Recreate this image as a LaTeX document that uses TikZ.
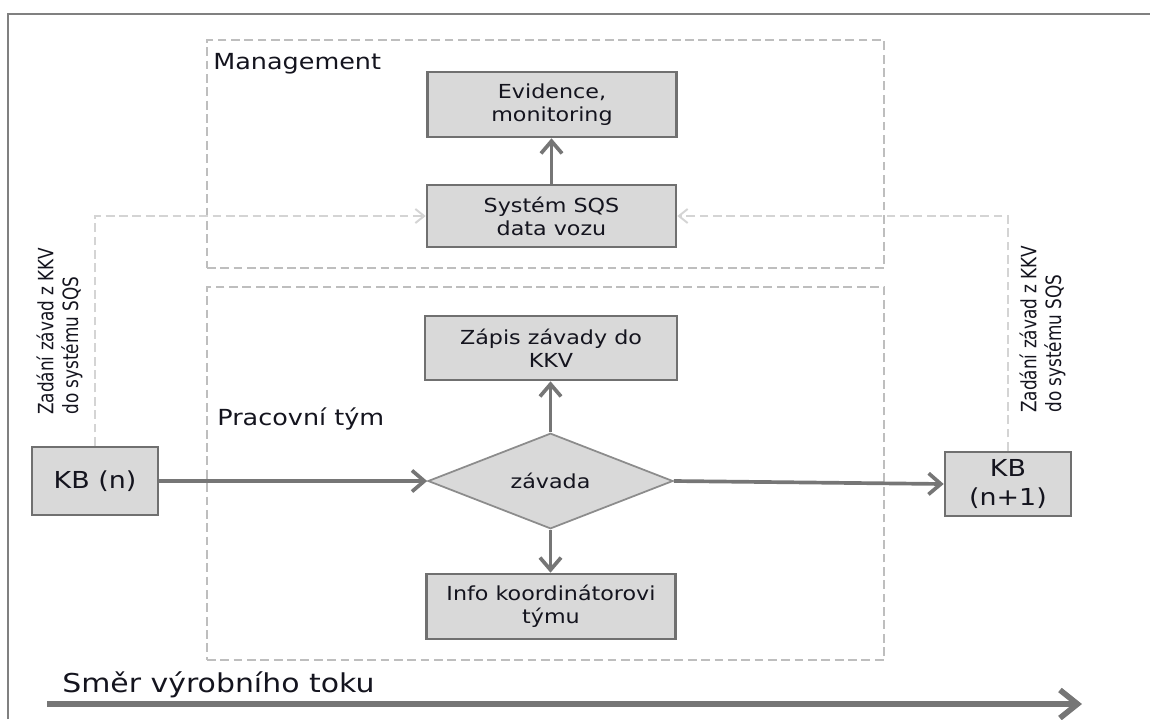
\documentclass[tikz,border=0pt]{standalone}
\usepackage{fontspec}
\setmainfont{DejaVu Sans}[FakeStretch=1.15]
\newfontfamily\sidefont{DejaVu Sans}[FakeStretch=0.8]
\usepackage{tikz}
\usepackage{xcolor}
\usetikzlibrary{arrows.meta,positioning,shapes.geometric}
\definecolor{boxgray}{RGB}{217,217,217}
\definecolor{boxline}{RGB}{112,112,112}
\definecolor{diamline}{RGB}{140,140,140}
\definecolor{arrowgray}{RGB}{118,118,118}
\definecolor{groupgray}{RGB}{190,190,190}
\definecolor{linkgray}{RGB}{212,212,212}
\definecolor{framegray}{RGB}{128,128,128}
\definecolor{textdark}{RGB}{20,20,30}

\tikzset{
  procbox/.style={draw=boxline, line width=1.5pt, fill=boxgray, minimum width=4.98cm,
    minimum height=1.28cm, align=center, inner sep=2pt, text=textdark,
    font=\fontsize{11}{13}\selectfont},
  kbbox/.style={procbox, minimum width=2.52cm, font=\fontsize{13.3}{16}\selectfont},
  decision/.style={diamond, draw=diamline, line width=1pt, fill=boxgray, minimum width=4.9cm,
    minimum height=1.26cm, inner sep=0pt, text=textdark, font=\fontsize{11}{13}\selectfont},
  groupbox/.style={draw=groupgray, line width=1.1pt, dash pattern=on 5pt off 2.6pt},
  grouplabel/.style={anchor=base west, inner sep=0pt, text=textdark, font=\fontsize{12.6}{15}\selectfont},
  sidelabel/.style={rotate=90, anchor=base west, align=left, inner sep=0pt, text=textdark,
    font=\sidefont\fontsize{12}{14}\selectfont},
  flow/.style={draw=arrowgray, line width=2.1pt, -{Straight Barb[length=7pt,width=12pt]}},
  link/.style={draw=linkgray, line width=1.1pt, dash pattern=on 5pt off 2.6pt,
    -{Straight Barb[length=5pt,width=8pt]}},
  mainflow/.style={draw=arrowgray, line width=3.2pt, -{Straight Barb[length=10pt,width=16pt]}}
}

\begin{document}
\begin{tikzpicture}[x=0.2mm, y=-0.2mm]
  \useasboundingbox (0,0) rectangle (1150,719);
  \draw[framegray, line width=1.1pt] (8,719) -- (8,14) -- (1150,14);

  % groups
  \node[groupbox, minimum width=13.54cm, minimum height=4.56cm] (mgmt) at (545.5,154) {};
  \node[groupbox, minimum width=13.54cm, minimum height=7.46cm] (team) at (545.5,473.5) {};
  \node[grouplabel] (mgmtlabel) at (213,69) {Management};
  \node[grouplabel] (teamlabel) at (217,425) {Pracovní tým};

  % management
  \node[procbox, minimum height=1.3cm] (evid) at (552,104.5) {Evidence,\\monitoring};
  \node[procbox, minimum height=1.24cm] (sys) at (551.5,216) {Systém SQS\\data vozu};

  % work team
  \node[procbox, minimum width=5.04cm] (zapis) at (551,348) {Zápis závady do\\KKV};
  \node[decision] (zavada) at (550.5,481) {závada};
  \node[procbox, minimum height=1.3cm] (info) at (551,606.5) {Info koordinátorovi\\týmu};

  % stations
  \node[kbbox, minimum height=1.36cm] (kbn) at (95,481) {KB (n)};
  \node[kbbox] (kbn1) at (1008,484) {KB\\(n+1)};

  % base of a two-line label is the base of its last line
  \node[sidelabel] (zadleft) at (78,415) {Zadání závad z KKV\\do systému SQS};
  \node[sidelabel] (zadright) at (1061,413) {Zadání závad z KKV\\do systému SQS};

  \draw[link] (kbn.north) |- (sys.west);
  \draw[link] (kbn1.north) |- (sys.east);
  \draw[flow] (sys.north) -- (sys.north |- evid.south);
  \draw[flow] (kbn.east) -- (zavada.west);
  \draw[flow] (zavada.east) -- (kbn1.west);
  \draw[flow] (zavada.north) -- (zavada.north |- zapis.south);
  \draw[flow] (zavada.south) -- (zavada.south |- info.north);

  % production direction
  \coordinate (flowstart) at (47,704);
  \coordinate (flowend) at (1082,704);
  \node[grouplabel, font=\fontsize{14.8}{17}\selectfont] (smer) at (62,692) {Směr výrobního toku};
  \draw[mainflow] (flowstart) -- (flowend);
\end{tikzpicture}
\end{document}
